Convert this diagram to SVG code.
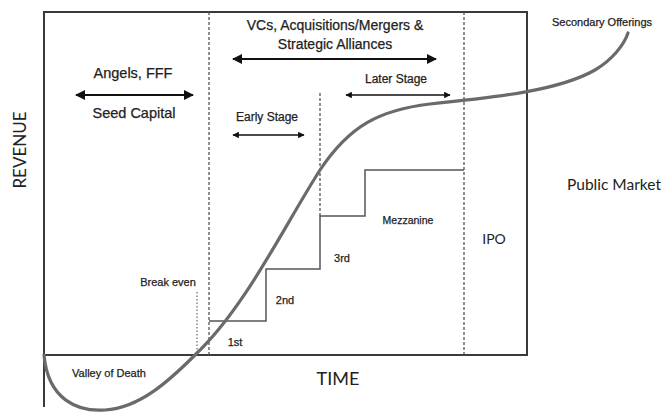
<svg xmlns="http://www.w3.org/2000/svg" width="670" height="412" viewBox="0 0 670 412">
<defs>
<style>
.frame{fill:none;stroke:#3a3a3a;stroke-width:2}
.dash{fill:none;stroke:#555;stroke-width:1.3;stroke-dasharray:3 2}
.dot{fill:none;stroke:#666;stroke-width:1.2;stroke-dasharray:1.5 2}
.step{fill:none;stroke:#555;stroke-width:1.5}
.curve{fill:none;stroke:#6a6a6a;stroke-width:3.2;stroke-linecap:round}
.arr{fill:none;stroke:#111;stroke-width:2;marker-start:url(#ah);marker-end:url(#ah)}
.arrs{fill:none;stroke:#111;stroke-width:1.3;marker-start:url(#ahs);marker-end:url(#ahs)}
.t{font-family:"Liberation Sans",Arial,sans-serif;fill:#222;stroke:#222;stroke-width:0.25;text-anchor:middle}
.h{font-family:Lato,"Open Sans",sans-serif;fill:#222;text-anchor:middle}
</style>
<marker id="ah" viewBox="0 0 10 10" refX="9" refY="5" markerWidth="6" markerHeight="5" orient="auto-start-reverse" markerUnits="strokeWidth"><path d="M0,0 L10,5 L0,10 z" fill="#111"/></marker>
<marker id="ahs" viewBox="0 0 10 10" refX="9" refY="5" markerWidth="6" markerHeight="5" orient="auto-start-reverse" markerUnits="strokeWidth"><path d="M0,0 L10,5 L0,10 z" fill="#111"/></marker>
</defs>
<rect width="670" height="412" fill="#fff"/>
<g id="frame">
<path class="frame" d="M44,407 V12 H527 V355 H44"/>
<line class="dash" x1="209" y1="12" x2="209" y2="355"/>
<line class="dash" x1="464" y1="12" x2="464" y2="355"/>
<line class="dash" x1="320" y1="93" x2="320" y2="216"/>
<line class="dot" x1="197" y1="292" x2="197" y2="355"/>
<path class="step" d="M209,321 H266 V269 H320 V216 H365 V170 H464"/>
</g>
<g id="connectors">
<line class="arr" x1="233" y1="59" x2="436" y2="59"/>
<line class="arr" x1="76" y1="95" x2="193" y2="95"/>
<line class="arrs" x1="233" y1="135" x2="304" y2="135"/>
<line class="arrs" x1="346" y1="95" x2="450" y2="95"/>
</g>
<g id="curve">
<path class="curve" d="M44,355 C48,400 78,412 105,410 C140,408 170,380 195,355 C245,308 283,228 320,170 C350,125 380,110 430,104 C500,97 560,90 595,70 C612,60 624,45 628,33"/>
</g>
<g id="vcs"><text class="t" font-size="14" x="335" y="30">VCs, Acquisitions/Mergers &amp;</text><text class="t" font-size="14" x="335" y="49">Strategic Alliances</text></g>
<g id="angels"><text class="t" font-size="14.5" x="133" y="78">Angels, FFF</text><text class="t" font-size="14.5" x="134" y="118">Seed Capital</text></g>
<g id="early"><text class="t" font-size="12" x="267" y="121">Early Stage</text></g>
<g id="later"><text class="t" font-size="12" x="396" y="83">Later Stage</text></g>
<g id="secondary"><text class="t" font-size="11" x="602" y="26">Secondary Offerings</text></g>
<g id="public"><text class="h" font-size="15.5" x="614" y="190">Public Market</text></g>
<g id="revenue"><text class="h" font-size="17" transform="translate(26,150) rotate(-90)">REVENUE</text></g>
<g id="time"><text class="h" font-size="18" x="338" y="385">TIME</text></g>
<g id="ipo"><text class="h" font-size="14" x="494" y="244">IPO</text></g>
<g id="mezz"><text class="t" font-size="10.5" x="408" y="224">Mezzanine</text></g>
<g id="r3"><text class="t" font-size="11" x="342" y="262">3rd</text></g>
<g id="r2"><text class="t" font-size="11" x="285" y="304">2nd</text></g>
<g id="r1"><text class="t" font-size="11" x="235" y="346">1st</text></g>
<g id="breakeven"><text class="t" font-size="11" x="168" y="286">Break even</text></g>
<g id="valley"><text class="t" font-size="11" x="109" y="377">Valley of Death</text></g>
</svg>
